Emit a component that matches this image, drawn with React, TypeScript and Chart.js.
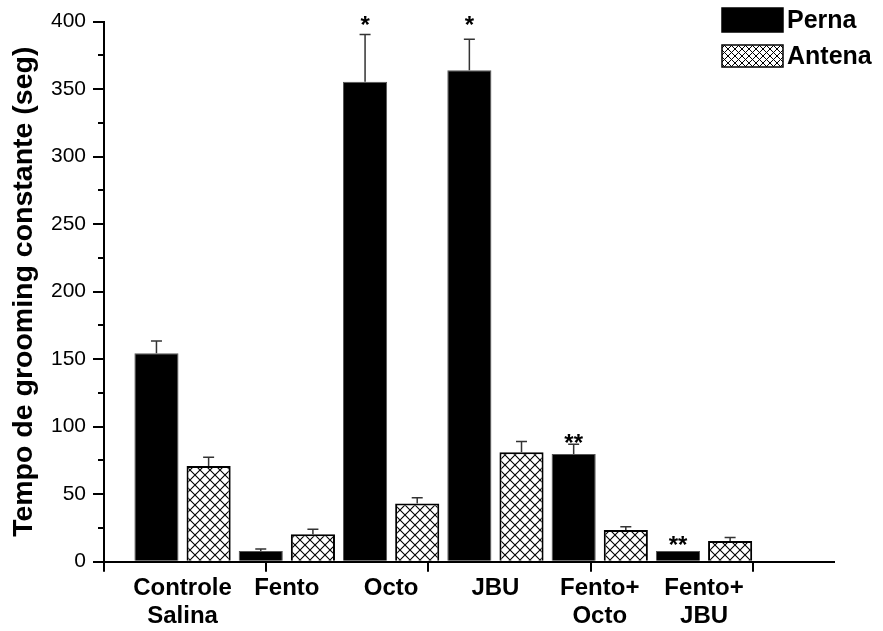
import React, { useEffect, useRef } from 'react';
import { Chart, registerables } from 'chart.js';

Chart.register(...registerables);

// Grooming time per treatment group, leg (Perna) vs antenna (Antena)
const categories: (string | string[])[] = [
  ['Controle', 'Salina'],
  'Fento',
  'Octo',
  'JBU',
  ['Fento+', 'Octo'],
  ['Fento+', 'JBU'],
];
const seriesNames = ['Perna', 'Antena'];
const pernaValues = [154.4, 7.9, 355.6, 364, 79.8, 7.9];
const pernaErrors = [9, 1.5, 35, 23, 7.2, 0];
const antenaValues = [70.9, 20.3, 43.2, 81, 23.5, 15.3];
const antenaErrors = [6.4, 3.7, 4.1, 8, 2.4, 2.7];
const pernaMarks = ['', '', '*', '*', '**', '**'];
const pernaMarkLevels = [0, 0, 401, 401, 92, 16];

const FONT = "'Liberation Sans', Arial, Helvetica, sans-serif";

function makeHatch(ctx: CanvasRenderingContext2D, size: number, lw: number) {
  const c = document.createElement('canvas');
  c.width = size;
  c.height = size;
  const g = c.getContext('2d')!;
  g.fillStyle = '#ffffff';
  g.fillRect(0, 0, size, size);
  g.strokeStyle = '#000000';
  g.lineWidth = lw;
  g.beginPath();
  g.moveTo(-1, -1);
  g.lineTo(size + 1, size + 1);
  g.moveTo(size + 1, -1);
  g.lineTo(-1, size + 1);
  g.stroke();
  return ctx.createPattern(c, 'repeat') as CanvasPattern;
}

const errorSets = [pernaErrors, antenaErrors];

const errorBarPlugin = {
  id: 'errorBars',
  afterDatasetsDraw(chart: any) {
    const { ctx } = chart;
    const yScale = chart.scales.y;
    chart.data.datasets.forEach((ds: any, di: number) => {
      const meta = chart.getDatasetMeta(di);
      const errs = errorSets[di];
      meta.data.forEach((bar: any, i: number) => {
        const err = errs[i];
        if (!err) return;
        const v = ds.data[i].y;
        const top = yScale.getPixelForValue(v + err);
        ctx.save();
        ctx.strokeStyle = '#333333';
        ctx.lineWidth = 1.5;
        ctx.beginPath();
        ctx.moveTo(bar.x, bar.y);
        ctx.lineTo(bar.x, top);
        ctx.moveTo(bar.x - 5.5, top);
        ctx.lineTo(bar.x + 5.5, top);
        ctx.stroke();
        ctx.restore();
      });
    });
  },
};

const marksPlugin = {
  id: 'sigMarks',
  afterDatasetsDraw(chart: any) {
    const { ctx } = chart;
    const yScale = chart.scales.y;
    const meta = chart.getDatasetMeta(0);
    ctx.save();
    ctx.fillStyle = '#000';
    ctx.font = `bold 24px ${FONT}`;
    ctx.textAlign = 'center';
    ctx.textBaseline = 'alphabetic';
    meta.data.forEach((bar: any, i: number) => {
      const m = pernaMarks[i];
      if (!m) return;
      const y = yScale.getPixelForValue(pernaMarkLevels[i]);
      ctx.fillText(m, bar.x, y + 13);
    });
    ctx.restore();
  },
};

const legendPlugin = {
  id: 'cornerLegend',
  afterDraw(chart: any) {
    const { ctx } = chart;
    const boxX = 722;
    const boxW = 61;
    const rows = [
      { top: 8, h: 24 },
      { top: 45, h: 22 },
    ];
    ctx.save();
    chart.data.datasets.forEach((ds: any, di: number) => {
      const r = rows[di];
      ctx.fillStyle = di === 0 ? ds.backgroundColor : chart.$legendHatch;
      ctx.fillRect(boxX, r.top, boxW, r.h);
      ctx.strokeStyle = '#000';
      ctx.lineWidth = 1.5;
      ctx.strokeRect(boxX, r.top, boxW, r.h);
      ctx.fillStyle = '#000';
      ctx.font = `bold 25px ${FONT}`;
      ctx.textAlign = 'left';
      ctx.textBaseline = 'middle';
      ctx.fillText(ds.label, 787, r.top + r.h / 2 + 1);
    });
    ctx.restore();
  },
};

export default function App() {
  const ref = useRef<HTMLCanvasElement>(null);

  useEffect(() => {
    const canvas = ref.current!;
    const ctx = canvas.getContext('2d')!;
    const hatch = makeHatch(ctx, 10, 1.1);
    const legendHatch = makeHatch(ctx, 7, 1);

    const chart: any = new Chart(ctx, {
      type: 'bar',
      data: {
        datasets: [
          {
            label: seriesNames[0],
            data: pernaValues.map((v, i) => ({ x: i, y: v })),
            backgroundColor: '#000000',
            borderColor: '#555555',
            borderWidth: 1,
            xAxisID: 'x',
            yAxisID: 'y',
          },
          {
            label: seriesNames[1],
            data: antenaValues.map((v, i) => ({ x: i, y: v })),
            backgroundColor: hatch,
            borderColor: '#000000',
            borderWidth: 2,
            xAxisID: 'x',
            yAxisID: 'y',
          },
        ],
      },
      options: {
        responsive: false,
        animation: false,
        devicePixelRatio: 1,
        events: [],
        layout: { padding: { top: 21.7, right: 49, left: 0, bottom: 0 } },
        datasets: {
          bar: { categoryPercentage: 1, barPercentage: 0.846 },
        },
        plugins: {
          legend: { display: false },
          tooltip: { enabled: false },
        },
        scales: {
          x: {
            type: 'linear',
            position: 'bottom',
            weight: 1,
            min: -0.753,
            max: 6.246,
            offset: false,
            grid: { display: false, drawTicks: false, offset: false },
            border: { display: true, color: '#000', width: 2 },
            afterBuildTicks(scale: any) {
              scale.ticks = categories.map((_, i) => ({ value: i }));
            },
            afterFit(scale: any) {
              scale.height = 69.3;
            },
            ticks: {
              autoSkip: false,
              maxRotation: 0,
              padding: 13,
              color: '#000',
              font: { family: FONT, size: 24, weight: 'bold', lineHeight: 1.17 },
              callback: (v: any) => categories[v as number],
            },
          },
          x2: {
            type: 'linear',
            position: 'bottom',
            weight: 0,
            min: 0,
            max: 4.5,
            offset: false,
            grid: {
              drawOnChartArea: false,
              drawTicks: true,
              tickLength: 10,
              lineWidth: 2,
              color: '#000',
              offset: false,
            },
            border: { display: false },
            afterFit(scale: any) {
              scale.height = 0;
            },
            ticks: { display: false, stepSize: 1, includeBounds: false },
          },
          y: {
            type: 'linear',
            position: 'left',
            weight: 1,
            min: 0,
            max: 400,
            grid: {
              drawOnChartArea: false,
              drawTicks: true,
              tickLength: 11,
              lineWidth: 2,
              color: '#000',
            },
            border: { display: true, color: '#000', width: 2 },
            afterFit(scale: any) {
              scale.width = 104;
            },
            ticks: {
              stepSize: 50,
              padding: 7,
              color: '#000',
              font: { family: FONT, size: 21 },
            },
            title: {
              display: true,
              text: 'Tempo de grooming constante (seg)',
              color: '#000',
              font: { family: FONT, size: 28.5, weight: 'bold' },
              padding: { top: 7, bottom: 0 },
            },
          },
          y2: {
            type: 'linear',
            position: 'left',
            weight: 0,
            min: 0,
            max: 400,
            grid: {
              drawOnChartArea: false,
              drawTicks: true,
              tickLength: 6,
              lineWidth: 2,
              color: '#000',
            },
            border: { display: false },
            afterFit(scale: any) {
              scale.width = 0;
            },
            ticks: { display: false, stepSize: 25 },
          },
        },
      } as any,
      plugins: [errorBarPlugin, marksPlugin, legendPlugin],
    });
    chart.$legendHatch = legendHatch;
    chart.draw();

    return () => chart.destroy();
  }, []);

  return (
    <div style={{ position: 'absolute', left: 0, top: 0, width: 883, height: 631, background: '#fff' }}>
      <canvas ref={ref} width={883} height={631} style={{ display: 'block' }} />
    </div>
  );
}
